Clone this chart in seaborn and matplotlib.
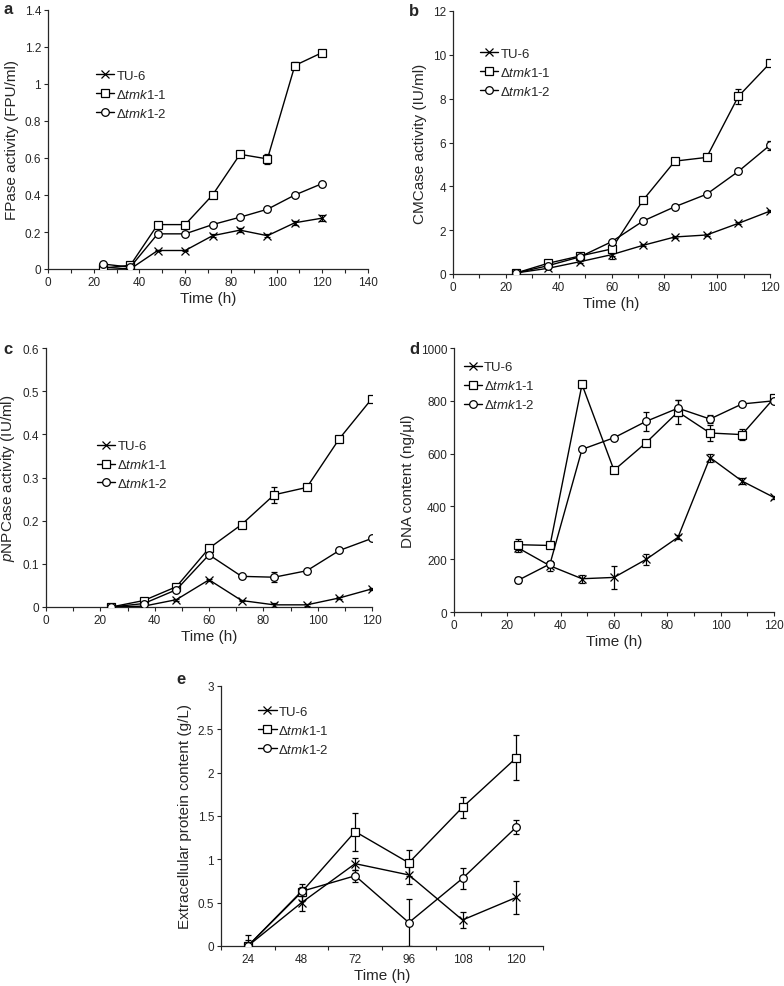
import pandas as pd
import seaborn as sns
import numpy as np
import matplotlib.pyplot as plt
from matplotlib.lines import Line2D
from matplotlib.ticker import MultipleLocator, FuncFormatter

# Sampling times (h).
time = [24, 36, 48, 60, 72, 84, 96, 108, 120]
strains = ["TU-6", "tmk1-1", "tmk1-2"]

# a: FPase activity (FPU/ml).
fpase_tu6 = [0.01, 0.0, 0.10, 0.10, 0.18, 0.21, 0.18, 0.25, 0.275]
fpase_k1 = [0.005, 0.02, 0.24, 0.24, 0.40, 0.62, 0.595, 1.10, 1.17]
fpase_k2 = [0.027, 0.01, 0.19, 0.19, 0.24, 0.28, 0.323, 0.40, 0.462]
fpase_tu6_err = [0.005, 0.005, 0.005, 0.005, 0.008, 0.012, 0.008, 0.01, 0.018]
fpase_k1_err = [0.005, 0.01, 0.015, 0.015, 0.01, 0.01, 0.025, 0.02, 0.01]
fpase_k2_err = [0.005, 0.005, 0.01, 0.008, 0.008, 0.008, 0.008, 0.008, 0.008]

# b: CMCase activity (IU/ml).
cmc_tu6 = [0.05, 0.26, 0.56, 0.88, 1.31, 1.69, 1.78, 2.31, 2.87]
cmc_k1 = [0.05, 0.49, 0.82, 1.14, 3.38, 5.15, 5.32, 8.1, 9.62]
cmc_k2 = [0.05, 0.38, 0.78, 1.47, 2.42, 3.07, 3.64, 4.68, 5.88]
cmc_tu6_err = [0.05, 0.05, 0.05, 0.2, 0.05, 0.05, 0.05, 0.05, 0.05]
cmc_k1_err = [0.05, 0.05, 0.05, 0.3, 0.15, 0.1, 0.1, 0.35, 0.15]
cmc_k2_err = [0.05, 0.05, 0.05, 0.08, 0.08, 0.08, 0.08, 0.08, 0.2]

# c: pNPCase activity (IU/ml).
pnp_tu6 = [0.0, 0.002, 0.017, 0.063, 0.015, 0.005, 0.005, 0.021, 0.042]
pnp_k1 = [0.0, 0.015, 0.047, 0.136, 0.191, 0.26, 0.277, 0.39, 0.483]
pnp_k2 = [0.0, 0.008, 0.04, 0.121, 0.071, 0.069, 0.084, 0.131, 0.159]
pnp_tu6_err = [0.001, 0.001, 0.002, 0.002, 0.002, 0.004, 0.003, 0.002, 0.002]
pnp_k1_err = [0.001, 0.002, 0.003, 0.004, 0.004, 0.018, 0.004, 0.005, 0.004]
pnp_k2_err = [0.001, 0.001, 0.003, 0.003, 0.003, 0.012, 0.004, 0.003, 0.003]

# d: DNA content (ng/ul).
dna_tu6 = [243, 175, 126, 131, 199, 283, 585, 496, 434]
dna_k1 = [255, 252, 862, 537, 641, 758, 678, 672, 810]
dna_k2 = [120, 182, 616, 660, 722, 772, 731, 788, 800]
dna_tu6_err = [15, 20, 15, 45, 20, 8, 15, 10, 6]
dna_k1_err = [20, 8, 12, 10, 8, 45, 30, 20, 12]
dna_k2_err = [12, 12, 8, 8, 35, 30, 15, 8, 8]

# e: Extracellular protein content (g/L).
prot_time = ["24", "48", "72", "96", "108", "120"]
prot_tu6 = [0.0, 0.50, 0.95, 0.82, 0.30, 0.56]
prot_k1 = [0.0, 0.62, 1.32, 0.96, 1.60, 2.17]
prot_k2 = [0.0, 0.63, 0.81, 0.27, 0.78, 1.37]
prot_tu6_err = [0.13, 0.10, 0.07, 0.11, 0.09, 0.19]
prot_k1_err = [0.03, 0.10, 0.22, 0.15, 0.12, 0.26]
prot_k2_err = [0.07, 0.05, 0.07, 0.27, 0.12, 0.08]

sns.set_style("ticks")
plt.rcParams["font.family"] = ["Liberation Sans", "DejaVu Sans"]
plt.rcParams["mathtext.fontset"] = "custom"
plt.rcParams["mathtext.it"] = "Liberation Sans:italic"
plt.rcParams["mathtext.rm"] = "Liberation Sans"

markers = {"TU-6": "x", "tmk1-1": "s", "tmk1-2": "o"}
labels = ["TU-6", r"$\it{\Delta tmk1}$-1", r"$\it{\Delta tmk1}$-2"]

fig = plt.figure(figsize=(7.84, 9.87), dpi=100)
W, H = 784, 987


def add_ax(l, r, t, b):
    return fig.add_axes([l / W, 1 - b / H, (r - l) / W, (b - t) / H])


def to_df(x, vals, errs):
    rows = []
    for s, v, e in zip(strains, vals, errs):
        for xi, vi, ei in zip(x, v, e):
            rows.append({"time": xi, "value": vi, "err": ei, "strain": s})
    return pd.DataFrame(rows)


def draw(ax, df, leg_xy):
    for s in strains:
        d = df[df.strain == s]
        ax.errorbar(d["time"], d["value"], yerr=d["err"], fmt="none",
                    ecolor="black", elinewidth=0.9, capsize=2.2, capthick=0.9,
                    zorder=2)
        sns.lineplot(data=d, x="time", y="value", marker=markers[s],
                     color="black", markerfacecolor="white",
                     markeredgecolor="black", markeredgewidth=0.9, markersize=5.5,
                     linewidth=1.0, legend=False, ax=ax, zorder=3)
    handles = [Line2D([], [], color="black", lw=1.0, marker=markers[s], ms=5.5,
                      mfc="white", mec="black", mew=0.9) for s in strains]
    ax.legend(handles, labels, loc="upper left", bbox_to_anchor=leg_xy,
              frameon=False, fontsize=9.5, handlelength=1.4, handletextpad=0.15,
              labelspacing=0.45, borderaxespad=0, borderpad=0)
    sns.despine(ax=ax)
    ax.tick_params(axis="both", labelsize=8.5, length=3, width=0.8,
                   direction="out", pad=2)
    ax.tick_params(axis="x", which="minor", length=3, width=0.8, direction="out")
    ax.yaxis.set_major_formatter(FuncFormatter(lambda v, p: f"{v:g}"))
    for sp in ax.spines.values():
        sp.set_linewidth(0.9)
    ax.set_xlabel("Time (h)", fontsize=11, labelpad=2)


# a
ax = add_ax(48, 368, 11, 270)
draw(ax, to_df(time, [fpase_tu6, fpase_k1, fpase_k2],
               [fpase_tu6_err, fpase_k1_err, fpase_k2_err]), (0.15, 0.77))
ax.set_xlim(0, 140)
ax.set_ylim(0, 1.4)
ax.xaxis.set_major_locator(MultipleLocator(20))
ax.xaxis.set_minor_locator(MultipleLocator(10))
ax.yaxis.set_major_locator(MultipleLocator(0.2))
ax.set_ylabel("FPase activity (FPU/ml)", fontsize=11, labelpad=4)

# b
ax = add_ax(453, 770, 12, 275)
draw(ax, to_df(time, [cmc_tu6, cmc_k1, cmc_k2],
               [cmc_tu6_err, cmc_k1_err, cmc_k2_err]), (0.085, 0.86))
ax.set_xlim(0, 120)
ax.set_ylim(0, 12)
ax.xaxis.set_major_locator(MultipleLocator(20))
ax.xaxis.set_minor_locator(MultipleLocator(10))
ax.yaxis.set_major_locator(MultipleLocator(2))
ax.set_ylabel("CMCase activity (IU/ml)", fontsize=11, labelpad=4)

# c
ax = add_ax(46, 372, 349, 608)
draw(ax, to_df(time, [pnp_tu6, pnp_k1, pnp_k2],
               [pnp_tu6_err, pnp_k1_err, pnp_k2_err]), (0.156, 0.645))
ax.set_xlim(0, 120)
ax.set_ylim(0, 0.6)
ax.xaxis.set_major_locator(MultipleLocator(20))
ax.xaxis.set_minor_locator(MultipleLocator(10))
ax.yaxis.set_major_locator(MultipleLocator(0.1))
ax.set_ylabel(r"$\it{p}$NPCase activity (IU/ml)", fontsize=11, labelpad=4)

# d
ax = add_ax(454, 774, 349, 613)
draw(ax, to_df(time, [dna_tu6, dna_k1, dna_k2],
               [dna_tu6_err, dna_k1_err, dna_k2_err]), (0.03, 0.95))
ax.set_xlim(0, 120)
ax.set_ylim(0, 1000)
ax.xaxis.set_major_locator(MultipleLocator(20))
ax.xaxis.set_minor_locator(MultipleLocator(10))
ax.yaxis.set_major_locator(MultipleLocator(200))
ax.set_ylabel("DNA content (ng/\u03bcl)", fontsize=11, labelpad=4)

# e (categorical time axis)
ax = add_ax(221, 543, 687, 947)
pos = list(range(len(prot_time)))
draw(ax, to_df(pos, [prot_tu6, prot_k1, prot_k2],
               [prot_tu6_err, prot_k1_err, prot_k2_err]), (0.115, 0.925))
ax.set_xlim(-0.5, len(prot_time) - 0.5)
ax.set_ylim(0, 3)
ax.set_xticks(pos)
ax.set_xticklabels(prot_time)
ax.set_xticks(np.arange(-0.5, len(prot_time)), minor=True)
ax.tick_params(axis="x", which="major", length=0, pad=5)
ax.yaxis.set_major_locator(MultipleLocator(0.5))
ax.set_ylabel("Extracellular protein content (g/L)", fontsize=11, labelpad=4)

for letter, x, y in [("a", 8, 10), ("b", 414, 12), ("c", 8, 349),
                     ("d", 414, 349), ("e", 181, 680)]:
    fig.text(x / W, 1 - y / H, letter, fontsize=12, fontweight="bold",
             ha="center", va="center")

fig.savefig("out.png", dpi=100)
